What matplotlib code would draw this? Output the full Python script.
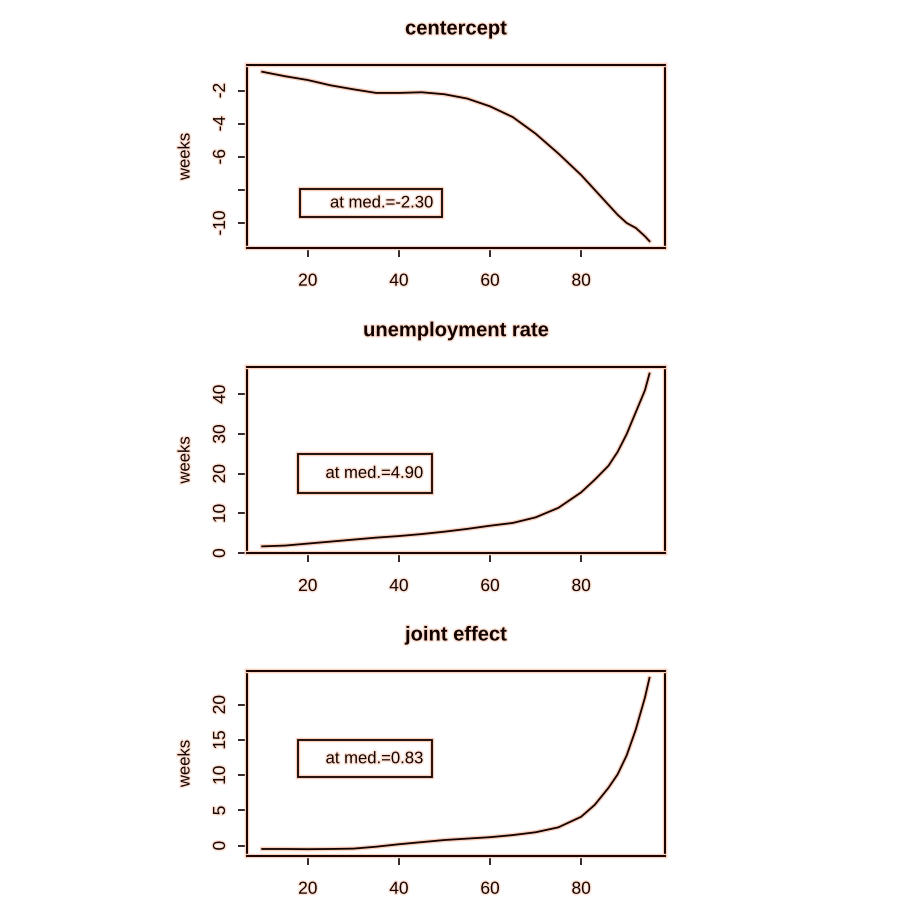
#!/usr/bin/env python3
"""Three quantile-effect panels (centercept / unemployment rate / joint effect)"""

import matplotlib
matplotlib.use('Agg')
import matplotlib.pyplot as plt
import matplotlib.patheffects as pe
from matplotlib.patches import Rectangle

plt.rcParams['font.family'] = ['Liberation Sans', 'DejaVu Sans']

# quantile levels (x axis)
pct = [10, 15, 20, 25, 30, 35, 40, 45, 50, 55, 60, 65, 70, 75, 80, 83, 86, 88, 90, 92, 94, 95]

centercept = [-0.86, -1.13, -1.36, -1.68, -1.92, -2.14, -2.14, -2.10, -2.22, -2.48, -2.95,
              -3.60, -4.60, -5.80, -7.10, -8.00, -8.90, -9.50, -10.0, -10.3, -10.8, -11.1]
unemployment = [1.7, 1.9, 2.4, 2.9, 3.4, 3.9, 4.3, 4.8, 5.4, 6.1, 6.9,
                7.6, 9.0, 11.4, 15.3, 18.5, 22.0, 25.5, 30.0, 35.5, 41.0, 45.2]
joint = [-0.47, -0.47, -0.50, -0.47, -0.42, -0.15, 0.20, 0.50, 0.80, 1.00, 1.20,
         1.50, 1.90, 2.60, 4.10, 5.80, 8.20, 10.1, 12.8, 16.5, 21.0, 23.8]

titles = ['centercept', 'unemployment rate', 'joint effect']
med_labels = ['at med.=-2.30', 'at med.=4.90', 'at med.=0.83']
series = [centercept, unemployment, joint]
x_ticks = [20, 40, 60, 80]
y_ticks = [[-2, -4, -6, -8, -10], [0, 10, 20, 30, 40], [0, 5, 10, 15, 20]]
y_ticklabels = [['-2', '-4', '-6', '', '-10'], ['0', '10', '20', '30', '40'],
                ['0', '5', '10', '15', '20']]

ink = '#120200'
halo = [pe.withStroke(linewidth=3.2, foreground='#fbd0bc')]
txt_halo = [pe.withStroke(linewidth=2.0, foreground='#fde0d2')]

fig = plt.figure(figsize=(9.03, 9.10), dpi=100)
fig.patch.set_facecolor('white')

# axes boxes in figure fractions: [left, bottom, width, height]
boxes = [[0.2732, 0.7275, 0.4632, 0.2011],
         [0.2732, 0.3920, 0.4632, 0.2050],
         [0.2732, 0.0593, 0.4632, 0.2033]]
# legend frame per panel in axes fractions: (left, bottom, right, top)
frames = [(0.127, 0.171, 0.466, 0.321),
          (0.123, 0.325, 0.442, 0.532),
          (0.123, 0.425, 0.442, 0.627)]

for i in range(3):
    ax = fig.add_axes(boxes[i])
    ax.plot(pct, series[i], color=ink, linewidth=1.3, path_effects=halo)
    ax.margins(x=0.04, y=0.04)

    ax.set_xticks(x_ticks)
    ax.set_xticklabels([str(t) for t in x_ticks])
    ax.set_yticks(y_ticks[i])
    ax.set_yticklabels(y_ticklabels[i], rotation=90, va='center')

    ax.tick_params(axis='both', direction='out', length=6.5, width=1.2, color=ink,
                   labelsize=12.5, labelcolor=ink)
    ax.tick_params(axis='x', pad=12)
    ax.tick_params(axis='y', pad=7)
    for lab in ax.get_xticklabels() + ax.get_yticklabels():
        lab.set_path_effects(txt_halo)

    for sp in ax.spines.values():
        sp.set_color(ink)
        sp.set_linewidth(1.4)
        sp.set_path_effects(halo)

    ax.set_title(titles[i], fontsize=14.5, fontweight='bold', color=ink, pad=22,
                 path_effects=txt_halo)
    ax.set_ylabel('weeks', fontsize=12, color=ink, va='center', path_effects=txt_halo)
    ax.yaxis.set_label_coords(-0.1475, 0.5)

    l, b, r, t = frames[i]
    ax.add_patch(Rectangle((l, b), r - l, t - b, transform=ax.transAxes, fill=False,
                           edgecolor=ink, linewidth=1.3, path_effects=halo))
    ax.text(r - 0.02, (b + t) / 2, med_labels[i], transform=ax.transAxes, ha='right',
            va='center', fontsize=12, color=ink, path_effects=txt_halo)

plt.savefig('out.png', dpi=100, facecolor='white')
